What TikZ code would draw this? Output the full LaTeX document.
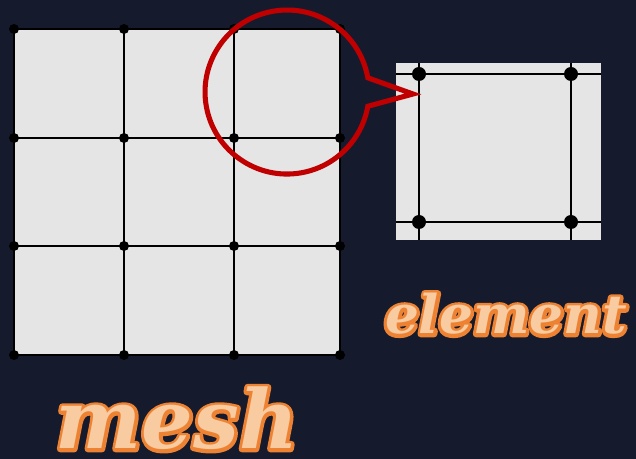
\documentclass[tikz,border=0pt]{standalone}
\usepackage{fontspec}
\newfontfamily\wordfont{DejaVu Serif}
\usetikzlibrary{positioning, calc}

\definecolor{bgblue}{HTML}{151B2D}
\definecolor{cellgray}{HTML}{E5E5E5}
\definecolor{lensred}{HTML}{C00000}
\definecolor{wordorange}{HTML}{EE8233}
\definecolor{wordpale}{HTML}{F9CBA0}
% orange stroke round the letters (a pale copy goes on top)
\newcommand{\stroked}[1]{\special{pdf:literal q 2 Tr 5 w 1 j 0.933 0.510 0.200 RG}#1\special{pdf:literal Q}}

\begin{document}
\begin{tikzpicture}[
    x=0.75pt, y=-0.75pt,
    meshdot/.style={circle, fill=black, inner sep=0pt, minimum size=7.5pt},
    elemdot/.style={circle, fill=black, inner sep=0pt, minimum size=10.5pt},
    meshline/.style={line width=1.5pt},
    elemline/.style={line width=2pt},
    bigword/.style={inner sep=0pt, anchor=base, text=wordpale}
]
    \fill[bgblue] (0,0) rectangle (636,459);
    \useasboundingbox (0,0) rectangle (636,459);

    % the mesh, 3x3 cells
    \fill[cellgray] (14,29) rectangle (340,355);
    \foreach \x [count=\i] in {14,124,234,340}
        \foreach \y [count=\j] in {29,138,246,355}
            \coordinate (m-\i-\j) at (\x,\y);
    \foreach \i in {1,...,4} {
        \draw[meshline] (m-\i-1) -- (m-\i-4);
        \draw[meshline] (m-1-\i) -- (m-4-\i);
    }
    \foreach \i in {1,...,4}
        \foreach \j in {1,...,4}
            \node[meshdot] (d-\i-\j) at (m-\i-\j) {};

    % one element, enlarged
    \fill[cellgray] (396,63) rectangle (601,240);
    \coordinate (e-top) at (396,74);   \coordinate (e-top') at (601,74);
    \coordinate (e-bot) at (396,222);  \coordinate (e-bot') at (601,222);
    \coordinate (e-left) at (419,63);  \coordinate (e-left') at (419,240);
    \coordinate (e-right) at (571,63); \coordinate (e-right') at (571,240);
    \draw[elemline] (e-top) -- (e-top');
    \draw[elemline] (e-bot) -- (e-bot');
    \draw[elemline] (e-left) -- (e-left');
    \draw[elemline] (e-right) -- (e-right');
    \node[elemdot] (n1) at (419,74) {};
    \node[elemdot] (n2) at (571,74) {};
    \node[elemdot] (n3) at (419,222) {};
    \node[elemdot] (n4) at (571,222) {};

    % magnifier callout
    \coordinate (lens) at (287,92);
    \coordinate (tip) at (413,94);
    \draw[lensred, line width=3.8pt, line join=miter]
        ($(lens)+(80.8,-14.2)$) arc[start angle=-10, end angle=-350, radius=82]
        -- (tip) -- cycle;

    % labels
    \tikzset{elemfont/.style={font=\wordfont\bfseries\itshape\fontsize{40}{46}\selectfont},
             meshfont/.style={font=\wordfont\bfseries\itshape\fontsize{61}{68}\selectfont}}
    \node[bigword, elemfont] (elemedge) at (506,334) {\stroked{element}};
    \node[bigword, elemfont] (elemlabel) at (elemedge.base) {element};
    \node[bigword, meshfont] (meshedge) at (177,449) {\stroked{mesh}};
    \node[bigword, meshfont] (meshlabel) at (meshedge.base) {mesh};
\end{tikzpicture}
\end{document}
